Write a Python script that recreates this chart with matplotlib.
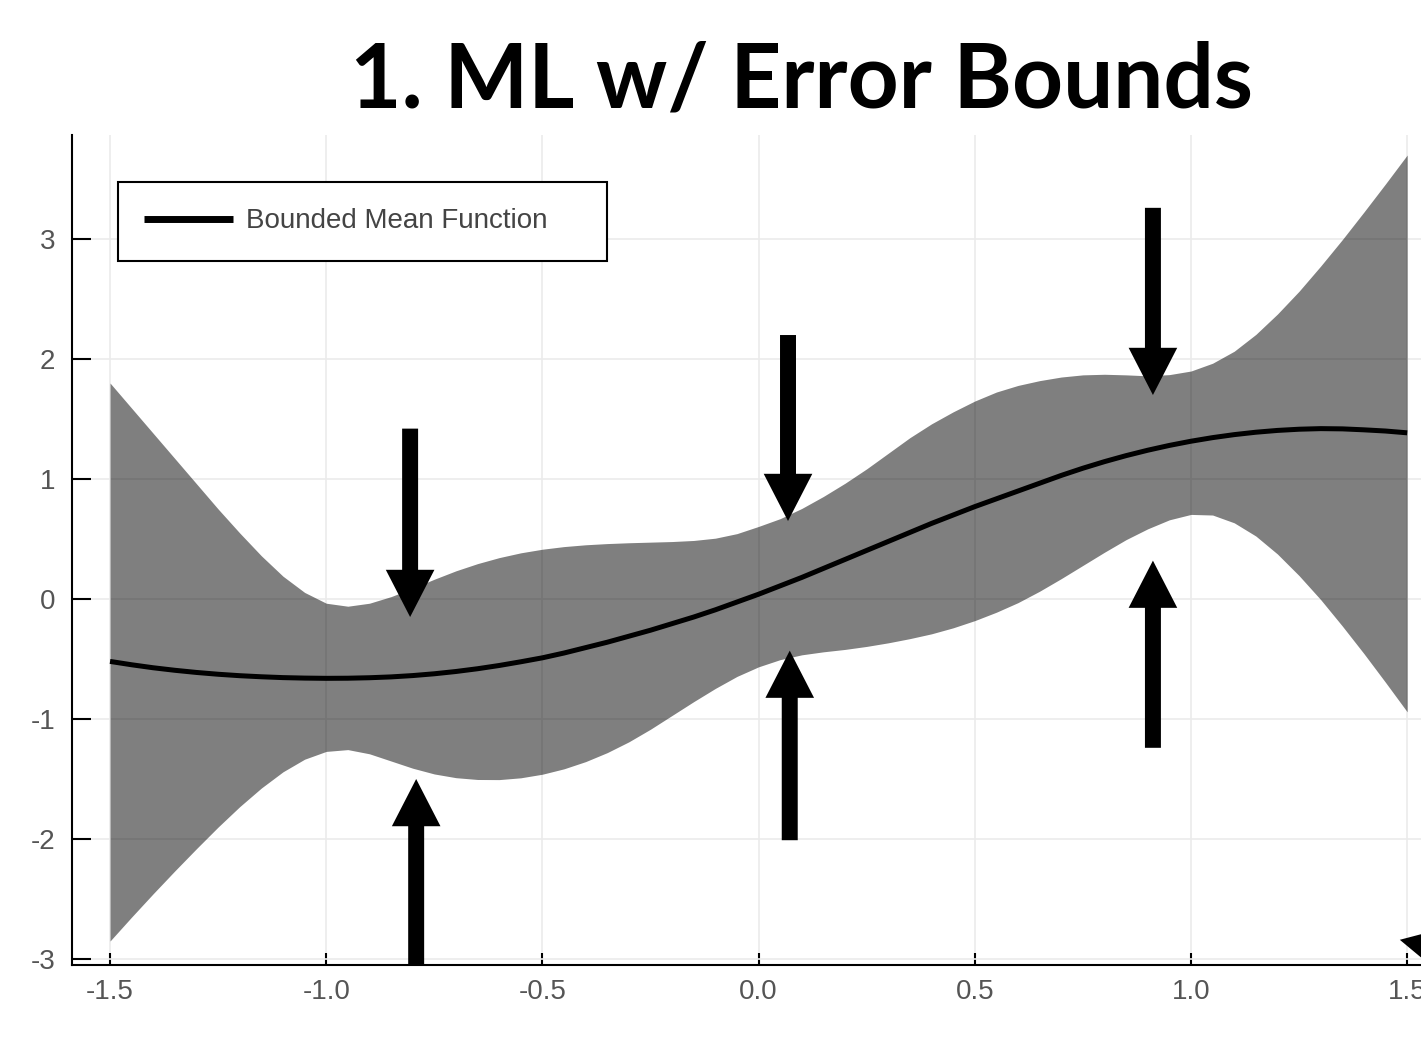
import numpy as np
import matplotlib.pyplot as plt

plt.rcParams['font.family'] = ['Liberation Sans', 'DejaVu Sans']

# x positions of the sampled curve
xs = [-1.5, -1.45, -1.4, -1.35, -1.3, -1.25, -1.2, -1.15, -1.1, -1.05,
      -1.0, -0.95, -0.9, -0.85, -0.8, -0.75, -0.7, -0.65, -0.6, -0.55,
      -0.5, -0.45, -0.4, -0.35, -0.3, -0.25, -0.2, -0.15, -0.1, -0.05,
      0.0, 0.05, 0.1, 0.15, 0.2, 0.25, 0.3, 0.35, 0.4, 0.45,
      0.5, 0.55, 0.6, 0.65, 0.7, 0.75, 0.8, 0.85, 0.9, 0.95,
      1.0, 1.05, 1.1, 1.15, 1.2, 1.25, 1.3, 1.35, 1.4, 1.45, 1.5]

mean = [-0.52, -0.548, -0.573, -0.594, -0.612, -0.627, -0.639, -0.648, -0.655, -0.659,
        -0.661, -0.66, -0.656, -0.649, -0.638, -0.623, -0.604, -0.581, -0.554, -0.523,
        -0.49, -0.45, -0.405, -0.36, -0.31, -0.26, -0.205, -0.15, -0.09, -0.025,
        0.04, 0.11, 0.18, 0.255, 0.33, 0.405, 0.48, 0.555, 0.63, 0.70,
        0.77, 0.835, 0.90, 0.965, 1.03, 1.09, 1.145, 1.195, 1.24, 1.28,
        1.315, 1.345, 1.37, 1.39, 1.405, 1.415, 1.42, 1.418, 1.41, 1.40, 1.385]

upper = [1.80, 1.59, 1.38, 1.17, 0.96, 0.75, 0.55, 0.36, 0.19, 0.055,
         -0.035, -0.06, -0.035, 0.02, 0.09, 0.165, 0.235, 0.295, 0.345, 0.385,
         0.415, 0.437, 0.452, 0.462, 0.469, 0.474, 0.479, 0.488, 0.507, 0.545,
         0.605, 0.67, 0.755, 0.855, 0.965, 1.085, 1.215, 1.345, 1.46, 1.56,
         1.65, 1.725, 1.78, 1.82, 1.85, 1.868, 1.873, 1.868, 1.86, 1.87,
         1.90, 1.965, 2.065, 2.205, 2.375, 2.565, 2.775, 2.995, 3.225, 3.46, 3.70]

lower = [-2.85, -2.65, -2.455, -2.265, -2.08, -1.90, -1.73, -1.575, -1.44, -1.335,
         -1.27, -1.255, -1.29, -1.35, -1.41, -1.458, -1.489, -1.504, -1.505, -1.49,
         -1.46, -1.415, -1.355, -1.28, -1.19, -1.085, -0.97, -0.855, -0.745, -0.645,
         -0.565, -0.505, -0.465, -0.44, -0.42, -0.395, -0.365, -0.33, -0.29, -0.24,
         -0.18, -0.11, -0.03, 0.065, 0.17, 0.28, 0.39, 0.495, 0.585, 0.66,
         0.705, 0.70, 0.635, 0.525, 0.375, 0.195, -0.005, -0.225, -0.455, -0.695, -0.94]

# annotation arrows: (x, y tail, y tip)
arrow_x = [-0.806, -0.792, 0.068, 0.072, 0.912, 0.912]
arrow_from = [1.42, -3.05, 2.2, -2.01, 3.26, -1.24]
arrow_to = [-0.15, -1.5, 0.65, -0.43, 1.70, 0.32]

xticks = [-1.5, -1.0, -0.5, 0.0, 0.5, 1.0, 1.5]
yticks = [-3, -2, -1, 0, 1, 2, 3]

fig = plt.figure(figsize=(14.21, 10.43), dpi=100)
ax = fig.add_axes([72 / 1421, 78 / 1043, 1 - 72 / 1421, 830 / 1043])

ax.fill_between(xs, lower, upper, color='black', alpha=0.5, linewidth=0, zorder=2)
ax.plot(xs, mean, color='black', linewidth=3.6, label='Bounded Mean Function', zorder=3,
        solid_capstyle='butt')

arrow_style = 'simple,head_length=3.4,head_width=3.5,tail_width=1.15'
for x, y0, y1 in zip(arrow_x, arrow_from, arrow_to):
    ax.annotate('', xy=(x, y1), xytext=(x, y0),
                arrowprops=dict(arrowstyle=arrow_style, color='black', lw=0,
                                shrinkA=0, shrinkB=0, mutation_scale=10),
                annotation_clip=False, zorder=4)

# arrow coming in from outside the frame, bottom right
ax.annotate('', xy=(1.483, -2.84), xytext=(45, -10), textcoords='offset points',
            arrowprops=dict(arrowstyle=arrow_style, color='black', lw=0,
                            shrinkA=0, shrinkB=0, mutation_scale=10),
            annotation_clip=False, zorder=4)

ax.set_xlim(-1.588, 1.532)
ax.set_ylim(-3.05, 3.867)
ax.set_xticks(xticks)
ax.set_xticklabels(['%.1f' % t for t in xticks])
ax.set_yticks(yticks)
ax.set_yticklabels([str(t) for t in yticks])

ax.grid(True, color='#ebebeb', linewidth=1.2, zorder=0)
ax.set_axisbelow(True)
for s in ['top', 'right']:
    ax.spines[s].set_visible(False)
for s in ['left', 'bottom']:
    ax.spines[s].set_linewidth(1.5)
ax.tick_params(axis='y', direction='in', length=14, width=1.5, pad=12,
               labelsize=20, labelcolor='#555555')
ax.tick_params(axis='x', direction='in', length=9, width=1.5, pad=10,
               labelsize=20, labelcolor='#555555')

leg = ax.legend(loc='upper left',
                bbox_to_anchor=(118 / 1421, 1 - 261 / 1043, 489 / 1421, 79 / 1043),
                bbox_transform=fig.transFigure, mode='expand', borderaxespad=0,
                fancybox=False, edgecolor='black', framealpha=1, fontsize=20,
                handlelength=3.2, borderpad=0.95, handletextpad=0.45)
leg.get_frame().set_linewidth(1.5)
leg.get_lines()[0].set_linewidth(5)
for t in leg.get_texts():
    t.set_color('#444444')

fig.text(801 / 1421, 1 - 108 / 1043, '1. ML w/ Error Bounds', ha='center', va='baseline',
         fontsize=64, fontweight='bold', family='Lato')

fig.savefig('out.png', dpi=100)
